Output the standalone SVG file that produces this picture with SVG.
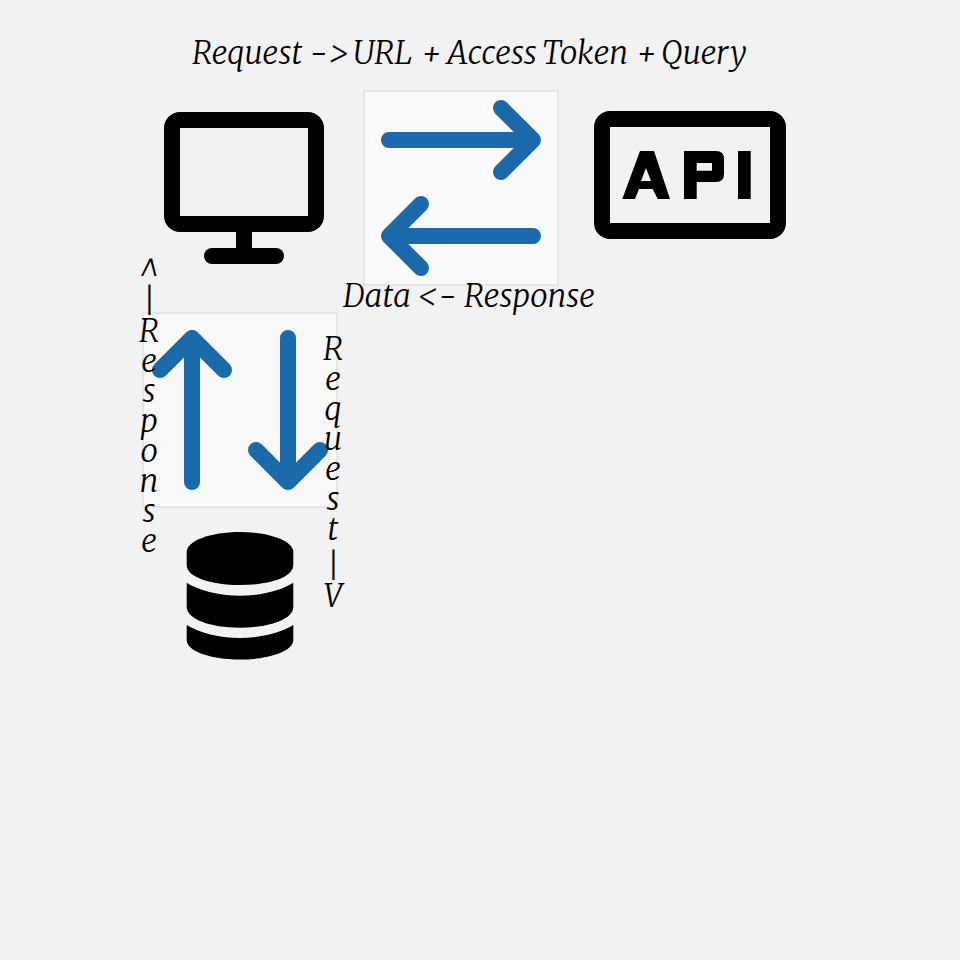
<svg xmlns="http://www.w3.org/2000/svg" width="960" height="960" viewBox="0 0 960 960">
<style>
.t{font-family:"Merriweather","Noto Serif","Liberation Serif",serif;font-style:italic;font-weight:300;font-size:31.5px;fill:#000}
.m{text-anchor:middle}
.p{fill:#f9f9f9;stroke:#e6e6e6;stroke-width:2}
.a{fill:none;stroke:#1a6aab;stroke-width:16;stroke-linecap:round;stroke-linejoin:round}
</style>
<rect width="960" height="960" fill="#f2f2f2"/>
<g id="computer">
<rect x="172" y="120" width="144" height="104" rx="8" fill="none" stroke="#000" stroke-width="16"/>
<rect x="236" y="232" width="16" height="18"/>
<rect x="204" y="248" width="80" height="16" rx="8"/>
</g>
<g id="api">
<rect x="602" y="119" width="176" height="112" rx="8" fill="none" stroke="#000" stroke-width="16"/>
<path fill-rule="evenodd" d="M640 151H654L670 199H657.700L652.700 189H639L635 199H622.300ZM646 168L641 181H651Z"/>
<path fill-rule="evenodd" d="M684 151H716Q724 151 724 159V174Q724 182 716 182H696.700V199H684ZM696.700 163V170.700H712V163Z"/>
<rect x="738" y="151" width="12.700" height="48"/>
</g>
<g id="database">
<path d="M186.700 552C186.700 541 210 532 240 532S293.300 541 293.300 552V565C293.300 577 270 585 240 585S186.700 577 186.700 565Z"/>
<path d="M186.700 582.700C198 590 218 595.700 240 595.700S282 590 293.300 582.700V607C293.300 619 270 627.700 240 627.700S186.700 619 186.700 607Z"/>
<path d="M186.700 625C198 632 218 638 240 638S282 632 293.300 625V640C293.300 651 270 659.500 240 659.500S186.700 651 186.700 640Z"/>
</g>
<g id="exchange-h">
<rect class="p" x="364" y="91" width="194" height="194"/>
</g>
<g id="exchange-v">
<rect class="p" x="143" y="313" width="194" height="194"/>
</g>
<g id="connectors">
<path class="a" d="M389 140H533M501 108L533 140L501 172"/>
<path class="a" d="M533 236H389M421 204L389 236L421 268"/>
<path class="a" d="M192 482V338M160 370L192 338L224 370"/>
<path class="a" d="M288 338V482M256 450L288 482L320 450"/>
</g>
<g id="labels">
<text class="t" y="64"><tspan x="192">Request</tspan> <tspan x="310">-</tspan><tspan x="329">&gt;</tspan> <tspan x="353">URL</tspan> <tspan x="421">+</tspan> <tspan x="447">Access</tspan> <tspan x="542">Token</tspan> <tspan x="636">+</tspan> <tspan x="661">Query</tspan></text>
<text class="t" y="306.500"><tspan x="343">Data</tspan> <tspan x="418">&lt;</tspan><tspan x="439">-</tspan> <tspan x="464">Response</tspan></text>
<text class="t m"><tspan x="149" y="282">^</tspan><tspan x="149" y="312">|</tspan><tspan x="149" y="342">R</tspan><tspan x="149" y="372">e</tspan><tspan x="149" y="402">s</tspan><tspan x="149" y="432">p</tspan><tspan x="149" y="462">o</tspan><tspan x="149" y="492">n</tspan><tspan x="149" y="522">s</tspan><tspan x="149" y="552">e</tspan></text>
<text class="t m"><tspan x="333" y="360">R</tspan><tspan x="333" y="390">e</tspan><tspan x="333" y="420">q</tspan><tspan x="333" y="450">u</tspan><tspan x="333" y="480">e</tspan><tspan x="333" y="510">s</tspan><tspan x="333" y="540">t</tspan><tspan x="333" y="577">|</tspan><tspan x="333" y="607">V</tspan></text>
</g>
</svg>
